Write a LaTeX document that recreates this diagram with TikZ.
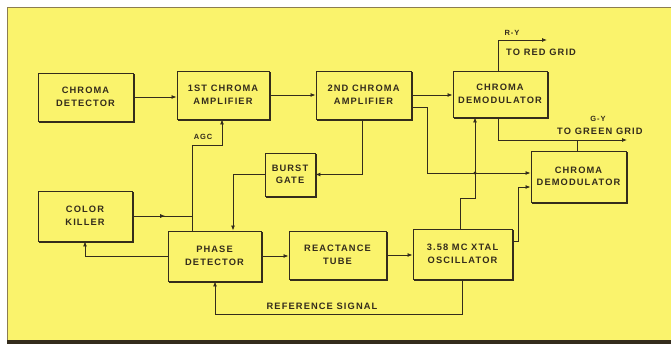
\documentclass[tikz,border=0pt]{standalone}
\usepackage{fontspec}
\setmainfont{Liberation Sans}[LetterSpace=12]
\usetikzlibrary{arrows.meta,decorations.markings,calc}
\definecolor{bgyel}{RGB}{250,243,108}
\definecolor{ink}{RGB}{52,44,28}
\definecolor{frame}{RGB}{140,125,80}
\tikzset{
  blk/.style={draw=ink, line width=0.9pt, fill=bgyel, align=center,
    font=\bfseries\fontsize{9.3}{12.5}\selectfont, text=ink, inner sep=1pt},
  shad/.style={draw=ink, line width=2pt, line cap=rect},
  wire/.style={draw=ink, line width=0.85pt},
  arr/.style={wire, -{Latex[length=5pt,width=4pt]}},
  midarr/.style={wire, decoration={markings, mark=at position 0.55 with {\arrow{Latex[length=5pt,width=4pt]}}}, postaction=decorate},
  lbl/.style={text=ink, inner sep=0pt, font=\bfseries\fontsize{9.3}{11}\selectfont},
  slbl/.style={text=ink, inner sep=0pt, font=\bfseries\fontsize{7.5}{9}\selectfont},
}
\begin{document}
\begin{tikzpicture}[x=1pt,y=-1pt]
\useasboundingbox (0,0) rectangle (671,344);
\fill[white] (0,0) rectangle (671,344);
\fill[bgyel] (7,8) rectangle (671,340);
\draw[frame, line width=1pt] (7,340) -- (7,8) -- (671,8);
\fill[ink] (7,339.5) rectangle (671,344);

\node[blk, minimum width=95pt, minimum height=48pt] (cd) at (85.5,97) {CHROMA\\DETECTOR};
\node[blk, minimum width=92pt, minimum height=48pt] (a1) at (223,95) {1ST CHROMA\\AMPLIFIER};
\node[blk, minimum width=95pt, minimum height=48pt] (a2) at (363.5,95) {2ND CHROMA\\AMPLIFIER};
\node[blk, minimum width=94pt, minimum height=46pt] (d1) at (500,94) {CHROMA\\DEMODULATOR};
\node[blk, minimum width=95pt, minimum height=51pt] (d2) at (578.5,176.5) {CHROMA\\DEMODULATOR};
\node[blk, minimum width=50pt, minimum height=43pt] (bg) at (290,174.5) {BURST\\GATE};
\node[blk, minimum width=94pt, minimum height=50pt] (ck) at (85,216) {COLOR\\KILLER};
\node[blk, minimum width=93pt, minimum height=50pt] (pd) at (214.5,256) {PHASE\\DETECTOR};
\node[blk, minimum width=97pt, minimum height=48pt] (rt) at (337.5,255) {REACTANCE\\TUBE};
\node[blk, minimum width=99pt, minimum height=50pt] (osc) at (462.5,254) {3.58 MC XTAL\\OSCILLATOR};
\foreach \n in {cd,a1,a2,d1,d2,bg,ck,pd,rt,osc}
  \draw[shad] ($(\n.north east)+(1,2)$) -- ($(\n.south east)+(1,1)$) -- ($(\n.south west)+(2,1)$);

\coordinate (ry) at (547,40);
\coordinate (gy) at (627,140);

% main chain
\draw[arr] (cd.east) -- (cd.east -| a1.west);
\draw[arr] (a1.east) -- (a1.east -| a2.west);
\draw[arr] (a2.east) -- (a2.east -| d1.west);
% outputs
\draw[arr] (d1.north -| 498,0) |- (ry);
\draw[arr] (d1.south -| 498,0) |- (gy);
\draw[wire] (d2.north -| 577,0) -- (577,140);
\node[slbl] (ryl) at (512,33) {R-Y};
\node[lbl, anchor=west] (rgl) at (506,52) {TO RED GRID};
\node[slbl] (gyl) at (598,119) {G-Y};
\node[lbl, anchor=west] (ggl) at (557,131) {TO GREEN GRID};
% 2nd amp to lower demod
\draw[arr] (a2.east |- 0,107) -| (427,173) -- (d2.west |- 0,173);
% oscillator to upper demod
\draw[arr] (osc.north -| 460,0) |- (475,198) -- (475,198 |- d1.south);
\fill[ink] (475,173) circle (1.6pt);
% oscillator to lower demod
\draw[arr] (osc.east |- 0,241) -| (518,187) -- (d2.west |- 0,187);
% 2nd amp to burst gate
\draw[arr] (a2.south -| 362,0) |- (bg.east);
% burst gate to phase detector
\draw[arr] (bg.west) -| (pd.north -| 233,0);
% color killer out
\draw[midarr] (ck.east) -- (192,216);
% AGC
\draw[arr] (pd.north -| 192,0) |- (222,145) -- (a1.south -| 222,0);
\node[slbl] (agc) at (203,137) {AGC};
% phase detector to color killer
\draw[arr] (pd.west) -| (ck.south);
% phase detector to reactance tube to oscillator
\draw[arr] (pd.east) -- (pd.east -| rt.west);
\draw[arr] (rt.east) -- (rt.east -| osc.west);
% reference signal
\draw[arr] (osc.south) |- (215,314) -- (pd.south -| 215,0);
\node[lbl] (ref) at (322,306) {REFERENCE SIGNAL};
\end{tikzpicture}
\end{document}
